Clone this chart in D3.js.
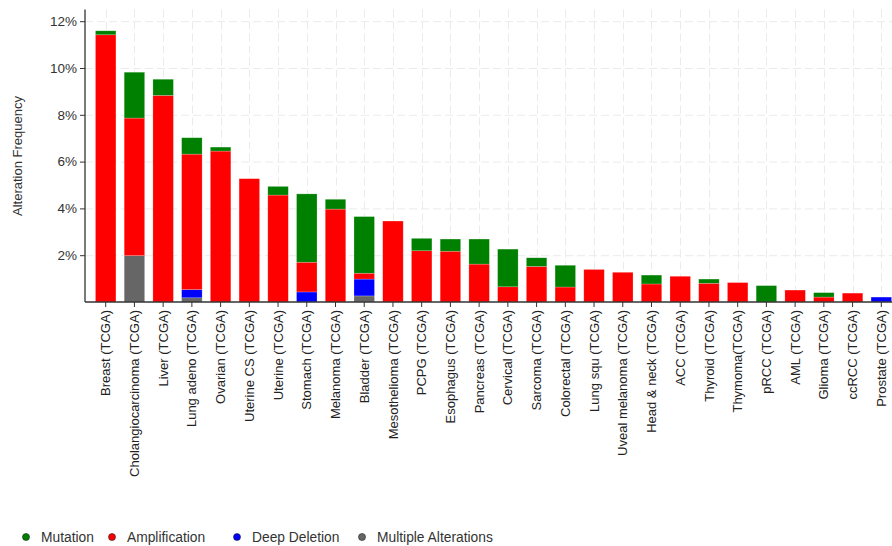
<!DOCTYPE html>
<html>
<head>
<meta charset="utf-8">
<script src="https://cdn.jsdelivr.net/npm/d3@7"></script>
<style>
	body { margin: 0; background: #fff; }
	svg { font-family: "Liberation Sans", Arial, sans-serif; }
</style>
</head>
<body>
<div id="chart"></div>
<script>
'use strict';

// cancer types, in plot order
const categories = [
	"Breast (TCGA)", "Cholangiocarcinoma (TCGA)", "Liver (TCGA)", "Lung adeno (TCGA)",
	"Ovarian (TCGA)", "Uterine CS (TCGA)", "Uterine (TCGA)", "Stomach (TCGA)",
	"Melanoma (TCGA)", "Bladder (TCGA)", "Mesothelioma (TCGA)", "PCPG (TCGA)",
	"Esophagus (TCGA)", "Pancreas (TCGA)", "Cervical (TCGA)", "Sarcoma (TCGA)",
	"Colorectal (TCGA)", "Lung squ (TCGA)", "Uveal melanoma (TCGA)", "Head & neck (TCGA)",
	"ACC (TCGA)", "Thyroid (TCGA)", "Thymoma(TCGA)", "pRCC (TCGA)",
	"AML (TCGA)", "Glioma (TCGA)", "ccRCC (TCGA)", "Prostate (TCGA)"
];

// alteration frequency, percent
const multipleAlterations = [0, 1.98, 0, 0.18, 0, 0, 0, 0, 0, 0.26, 0, 0, 0, 0, 0, 0, 0, 0, 0, 0, 0, 0, 0, 0, 0, 0, 0, 0];
const deepDeletion        = [0, 0, 0, 0.35, 0, 0, 0, 0.43, 0, 0.72, 0, 0, 0, 0, 0, 0, 0, 0, 0, 0, 0, 0, 0, 0, 0, 0, 0, 0.21];
const amplification       = [11.42, 5.88, 8.83, 5.79, 6.45, 5.27, 4.57, 1.27, 3.97, 0.25, 3.46, 2.19, 2.17, 1.62, 0.65, 1.52, 0.64, 1.39, 1.27, 0.77, 1.10, 0.80, 0.83, 0, 0.51, 0.21, 0.38, 0];
const mutation            = [0.17, 1.96, 0.69, 0.70, 0.17, 0, 0.37, 2.92, 0.42, 2.42, 0, 0.53, 0.52, 1.07, 1.61, 0.37, 0.93, 0, 0, 0.38, 0, 0.18, 0, 0.70, 0, 0.19, 0, 0];

const yTicks = [2, 4, 6, 8, 10, 12];

// stacking order bottom -> top
const seriesKeys = ["multi", "deep", "amp", "mut"];
const seriesColor = { mut: "#008000", amp: "#ff0000", deep: "#0000ff", multi: "#666666" };
const legendItems = [
	{ key: "mut", label: "Mutation", x: 26 },
	{ key: "amp", label: "Amplification", x: 112 },
	{ key: "deep", label: "Deep Deletion", x: 237 },
	{ key: "multi", label: "Multiple Alterations", x: 362 }
];

const width = 892, height = 546;
const plot = { left: 85, top: 9.5, bottom: 302, right: 902 };

const rows = categories.map((c, i) => ({
	name: c,
	multi: multipleAlterations[i],
	deep: deepDeletion[i],
	amp: amplification[i],
	mut: mutation[i]
}));

const svg = d3.select("#chart")
	.append("svg")
		.attr("width", width)
		.attr("height", height);

const x = d3.scaleBand()
	.domain(categories)
	.range([plot.left, plot.right])
	.paddingInner(0.287)
	.paddingOuter(0.364);

const y = d3.scaleLinear()
	.domain([0, 12.5])
	.range([plot.bottom, plot.top]);

// grid, dashed
const grid = svg.append("g")
	.attr("stroke", "#ebebeb")
	.attr("stroke-width", 1)
	.attr("stroke-dasharray", "8,4");

grid.selectAll("line.h")
	.data(yTicks)
	.join("line")
		.attr("class", "h")
		.attr("x1", plot.left)
		.attr("x2", width)
		.attr("y1", d => y(d) + 0.5)
		.attr("y2", d => y(d) + 0.5);

grid.selectAll("line.v")
	.data(categories)
	.join("line")
		.attr("class", "v")
		.attr("x1", d => Math.round(x(d) + x.bandwidth() / 2) + 0.5)
		.attr("x2", d => Math.round(x(d) + x.bandwidth() / 2) + 0.5)
		.attr("y1", plot.top)
		.attr("y2", plot.bottom);

// stacked bars
const stacked = d3.stack().keys(seriesKeys)(rows);

svg.append("g")
	.selectAll("g")
	.data(stacked)
	.join("g")
		.attr("fill", d => seriesColor[d.key])
	.selectAll("rect")
	.data(d => d.filter(s => s[1] - s[0] > 0))
	.join("rect")
		.attr("x", d => x(d.data.name))
		.attr("width", x.bandwidth())
		.attr("y", d => y(d[1]))
		.attr("height", d => y(d[0]) - y(d[1]))
		.attr("stroke", "#fff")
		.attr("stroke-opacity", 0.35)
		.attr("stroke-width", 0.6);

// axes
const yAxis = svg.append("g")
	.attr("transform", `translate(${plot.left},0)`)
	.call(d3.axisLeft(y)
		.tickValues(yTicks)
		.tickFormat(d => d + "%")
		.tickSize(5)
		.tickPadding(3));
yAxis.select(".domain")
	.attr("d", `M0,${plot.top}V${plot.bottom}`)
	.attr("stroke", "#333")
	.attr("stroke-width", 1.3);
yAxis.selectAll(".tick line").attr("stroke", "#333");
yAxis.selectAll(".tick text")
	.attr("font-size", 13.5)
	.attr("fill", "#333");

const xAxis = svg.append("g")
	.attr("transform", `translate(0,${plot.bottom})`)
	.call(d3.axisBottom(x).tickSize(5).tickPadding(4));
xAxis.select(".domain")
	.attr("d", `M${plot.left},0H${width}`)
	.attr("stroke", "#333")
	.attr("stroke-width", 1.3);
xAxis.selectAll(".tick line").attr("stroke", "#333");
xAxis.selectAll(".tick text")
	.attr("font-size", 13)
	.attr("fill", "#222")
	.attr("text-anchor", "end")
	.attr("dy", "0.35em")
	.attr("transform", "translate(0,8) rotate(-90)")
	.attr("x", 0)
	.attr("y", 0);

// y title
svg.append("text")
	.attr("transform", "translate(22,156) rotate(-90)")
	.attr("text-anchor", "middle")
	.attr("font-size", 13)
	.attr("fill", "#333")
	.text("Alteration Frequency");

// legend
const legend = svg.append("g")
	.selectAll("g")
	.data(legendItems)
	.join("g")
		.attr("transform", d => `translate(${d.x},537)`);
legend.append("circle")
	.attr("r", 3.5)
	.attr("fill", d => seriesColor[d.key])
	.attr("stroke", "#222")
	.attr("stroke-width", 0.6);
legend.append("text")
	.attr("x", 15)
	.attr("dy", "0.35em")
	.attr("font-size", 13.8)
	.attr("fill", "#333")
	.text(d => d.label);
</script>
</body>
</html>
